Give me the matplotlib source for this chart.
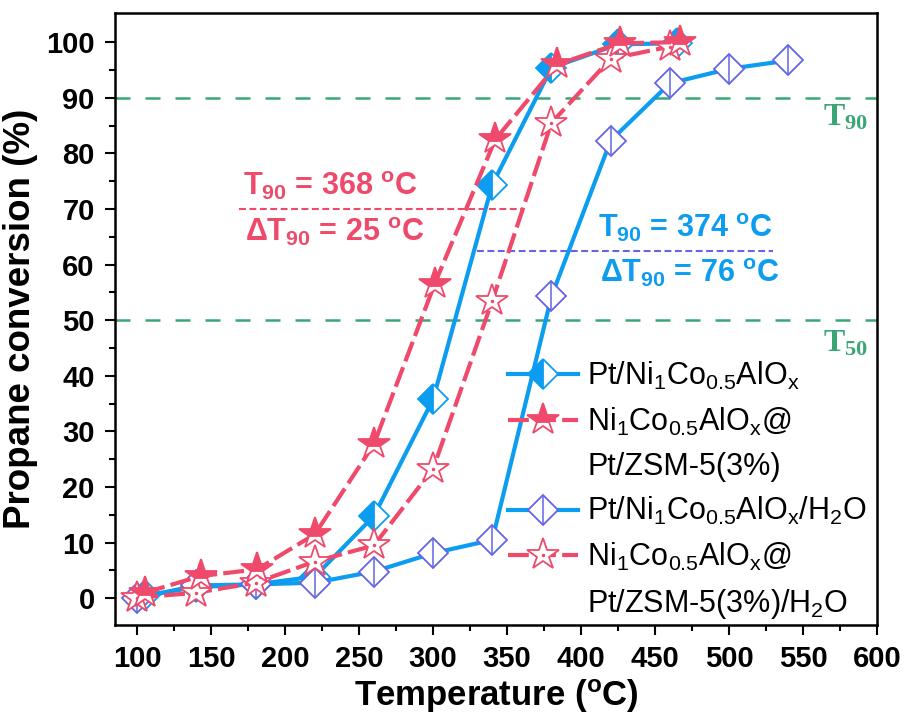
import numpy as np
import matplotlib
matplotlib.use("Agg")
import matplotlib.pyplot as plt
from matplotlib.lines import Line2D

plt.rcParams['font.family'] = ['Liberation Sans', 'DejaVu Sans']
plt.rcParams['mathtext.default'] = 'regular'

# data
temp_a = [105, 140, 180, 220, 260, 300, 340, 380, 425, 465]
conv_a = [0.5, 2.0, 2.5, 3.9, 14.8, 35.8, 74.4, 95.4, 99.6, 99.8]

temp_b = [105, 143, 181, 220, 260, 301, 342, 384, 426, 467]
conv_b = [1.0, 4.0, 5.2, 11.5, 27.7, 56.5, 82.5, 96.0, 99.8, 100.0]

temp_c = [100, 140, 180, 220, 260, 300, 340, 380, 420, 460, 500, 540]
conv_c = [0.0, 2.3, 2.5, 2.8, 4.8, 8.1, 10.5, 54.3, 82.3, 92.6, 95.2, 96.7]

temp_d = [100, 140, 180, 220, 260, 300, 340, 380, 420, 460]
conv_d = [0.1, 1.0, 2.8, 6.6, 9.5, 23.3, 53.5, 85.5, 97.0, 99.2]

labels = [r'Pt/Ni$_1$Co$_{0.5}$AlO$_x$',
          r'Ni$_1$Co$_{0.5}$AlO$_x$@',
          'Pt/ZSM-5(3%)',
          r'Pt/Ni$_1$Co$_{0.5}$AlO$_x$/H$_2$O',
          r'Ni$_1$Co$_{0.5}$AlO$_x$@',
          r'Pt/ZSM-5(3%)/H$_2$O']

BLUE = '#0c9df0'
RED = '#ef4a6b'
SLATE = '#6464e4'
GREEN = '#3aa676'

fig = plt.figure(figsize=(9.07, 7.2), dpi=100)
ax = fig.add_axes([0.1268, 0.132, 0.8401, 0.8504])

# reference lines
for y in (90, 50):
    ax.axhline(y, color=GREEN, lw=1.8, dashes=(6, 6), zorder=1)
ax.text(594, 89, r'T$_{90}$', color=GREEN, family='Liberation Serif',
        weight='bold', fontsize=23, ha='right', va='top')
ax.text(594, 48.5, r'T$_{50}$', color=GREEN, family='Liberation Serif',
        weight='bold', fontsize=23, ha='right', va='top')

ax.plot([169, 360], [70, 70], color=RED, lw=1.5, dashes=(3.3, 1.7), zorder=1)
ax.plot([330, 530], [62.5, 62.5], color=SLATE, lw=1.5, dashes=(3.3, 1.7), zorder=1)

ax.text(171.5, 72.5, r'T$_{90}$ = 368 $^{o}$C', color=RED, weight='bold',
        fontsize=22, va='baseline')
ax.text(173, 64.3, r'$\Delta$T$_{90}$ = 25 $^{o}$C', color=RED, weight='bold',
        fontsize=22, va='baseline')
ax.text(411.5, 65.0, r'T$_{90}$ = 374 $^{o}$C', color=BLUE, weight='bold',
        fontsize=22, va='baseline')
ax.text(412.8, 56.8, r'$\Delta$T$_{90}$ = 76 $^{o}$C', color=BLUE, weight='bold',
        fontsize=22, va='baseline')

# series
la, = ax.plot(temp_a, conv_a, color=BLUE, lw=3, marker='D', ms=15,
              fillstyle='left', mfc=BLUE, mfcalt='white', mec=BLUE, mew=1.3, zorder=3)
lc, = ax.plot(temp_c, conv_c, color=BLUE, lw=3, marker='D', ms=15,
              mfc='white', mec=SLATE, mew=1.3, zorder=3)
lc2, = ax.plot(temp_c, conv_c, ls='none', marker='|', ms=21, mec=SLATE, mew=1.1, zorder=3)
ld, = ax.plot(temp_d, conv_d, color=RED, lw=3, dashes=(5, 1.5), marker='*', ms=24,
              mfc='white', mec=RED, mew=1.3, zorder=4)
ld2, = ax.plot(temp_d, conv_d, ls='none', marker='.', ms=3, mec=RED, mfc=RED, zorder=4)
lb, = ax.plot(temp_b, conv_b, color=RED, lw=3, dashes=(5, 1.5), marker='*', ms=24,
              fillstyle='top', mfc=RED, mfcalt='white', mec=RED, mew=1.3, zorder=5)

blank = Line2D([], [], ls='none', marker='none')
ax.legend([la, lb, blank, (lc, lc2), (ld, ld2), blank], labels,
          loc='upper left', bbox_to_anchor=(0.5157, 0.433), frameon=False,
          fontsize=22, handlelength=2.3, handletextpad=0.3, labelspacing=0.45,
          borderpad=0, borderaxespad=0, numpoints=1)

ax.set_xlim(85, 600)
ax.set_ylim(-4.8, 105.3)
ax.set_xticks(np.arange(100, 601, 50))
ax.set_xticks(np.arange(125, 600, 50), minor=True)
ax.set_yticks(np.arange(0, 101, 10))
ax.set_yticks(np.arange(5, 105, 10), minor=True)
ax.tick_params(which='major', length=7.5, width=1.5, labelsize=21, pad=7)
ax.tick_params(which='minor', length=4.5, width=1.5)
for lab in ax.get_xticklabels() + ax.get_yticklabels():
    lab.set_fontweight('bold')
for s in ax.spines.values():
    s.set_linewidth(1.8)

ax.set_xlabel('Temperature ($^{o}$C)', fontsize=25, weight='bold', labelpad=3)
ax.set_ylabel('Propane conversion (%)', fontsize=26.5, weight='bold', labelpad=6)

fig.savefig('out.png', dpi=100)
